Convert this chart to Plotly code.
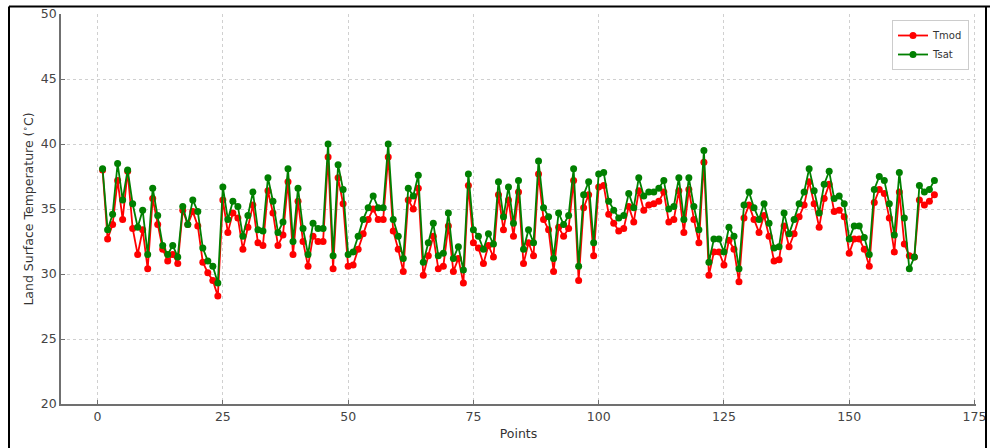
import plotly.graph_objects as go

points = list(range(1, 168))

tmod = [38.0, 32.7, 33.8, 37.2, 34.2, 37.9, 33.5, 31.5, 33.4, 30.4,
        35.8, 33.8, 31.9, 31.0, 31.5, 30.8, 34.9, 33.8, 34.8, 33.7,
        30.9, 30.1, 29.5, 28.3, 35.7, 33.2, 34.7, 34.3, 31.9, 33.6,
        35.3, 32.4, 32.2, 36.4, 34.7, 32.2, 33.0, 37.1, 31.5, 35.6,
        32.5, 30.6, 32.9, 32.5, 32.5, 39.0, 30.4, 37.4, 35.4, 30.6,
        30.7, 31.9, 33.1, 34.2, 35.0, 34.2, 34.2, 39.0, 33.3, 31.9,
        30.2, 35.7, 35.0, 36.6, 29.9, 31.4, 32.9, 30.4, 30.6, 33.7,
        30.2, 31.2, 29.3, 36.8, 32.4, 32.0, 30.8, 32.2, 31.3, 36.1,
        33.4, 35.7, 32.9, 36.3, 30.8, 32.4, 31.4, 37.7, 34.2, 33.4,
        30.2, 33.6, 32.9, 33.5, 37.2, 29.5, 35.1, 36.1, 31.4, 36.7,
        36.8, 34.6, 33.9, 33.3, 33.5, 35.2, 34.0, 36.4, 34.9, 35.3,
        35.4, 35.6, 36.3, 34.0, 34.2, 36.4, 33.2, 36.5, 34.2, 32.4,
        38.6, 29.9, 31.7, 31.7, 30.7, 32.6, 31.9, 29.4, 34.3, 35.3,
        34.2, 33.2, 34.5, 32.9, 31.0, 31.1, 33.7, 32.1, 33.1, 34.4,
        35.3, 37.1, 35.4, 33.6, 35.8, 36.9, 34.8, 34.9, 34.4, 31.6,
        32.7, 32.7, 31.9, 30.6, 35.5, 36.5, 36.2, 34.3, 31.7, 36.3,
        32.3, 31.4, 31.3, 35.7, 35.3, 35.6, 36.1]

tsat = [38.1, 33.4, 34.6, 38.5, 35.7, 38.0, 35.4, 33.6, 34.9, 31.5,
        36.6, 34.5, 32.2, 31.5, 32.2, 31.3, 35.2, 33.8, 35.7, 34.8,
        32.0, 31.0, 30.6, 29.3, 36.7, 34.2, 35.6, 35.2, 32.9, 34.5,
        36.3, 33.4, 33.3, 37.4, 35.6, 33.2, 34.0, 38.1, 32.5, 36.6,
        33.5, 31.5, 33.9, 33.5, 33.5, 40.0, 31.4, 38.4, 36.5, 31.5,
        31.7, 32.9, 34.2, 35.1, 36.0, 35.1, 35.1, 40.0, 34.2, 32.9,
        31.2, 36.6, 36.0, 37.6, 30.9, 32.4, 33.9, 31.4, 31.6, 34.7,
        31.2, 32.1, 30.3, 37.7, 33.4, 32.9, 31.9, 33.1, 32.3, 37.1,
        34.4, 36.7, 33.9, 37.2, 31.9, 33.4, 32.4, 38.7, 35.1, 34.4,
        31.2, 34.7, 33.8, 34.5, 38.1, 30.6, 36.1, 37.1, 32.4, 37.7,
        37.8, 35.6, 34.9, 34.3, 34.5, 36.2, 35.1, 37.4, 36.0, 36.3,
        36.3, 36.6, 37.2, 35.0, 35.2, 37.4, 34.2, 37.4, 35.2, 33.4,
        39.5, 30.9, 32.7, 32.7, 31.7, 33.6, 32.9, 30.4, 35.3, 36.3,
        35.1, 34.2, 35.4, 33.9, 32.0, 32.1, 34.7, 33.1, 34.2, 35.4,
        36.3, 38.1, 36.4, 34.7, 36.9, 37.9, 35.8, 36.0, 35.4, 32.7,
        33.7, 33.7, 32.8, 31.5, 36.5, 37.5, 37.2, 35.4, 33.0, 37.8,
        34.3, 30.4, 31.3, 36.8, 36.3, 36.5, 37.2]

x_ticks = [0, 25, 50, 75, 100, 125, 150, 175]
y_ticks = [20, 25, 30, 35, 40, 45, 50]

fig = go.Figure()
fig.add_trace(go.Scatter(
    x=points, y=tmod, name="Tmod", mode="lines+markers",
    line=dict(color="#ff0000", width=1.8),
    marker=dict(color="#ff0000", size=7),
))
fig.add_trace(go.Scatter(
    x=points, y=tsat, name="Tsat", mode="lines+markers",
    line=dict(color="#008000", width=1.8),
    marker=dict(color="#008000", size=7),
))

axis_common = dict(
    showgrid=True, gridcolor="#d0d0d0", griddash="dot", gridwidth=1,
    showline=True, linecolor="#707070", linewidth=1.6,
    ticks="inside", ticklen=4, tickcolor="#707070", tickwidth=1.2,
    tickfont=dict(family="DejaVu Sans", size=12.5, color="#444444"),
    zeroline=False, mirror=False,
)

fig.update_xaxes(range=[-7.3, 175.3], tickvals=x_ticks,
                 title=dict(text="Points", standoff=6,
                            font=dict(family="DejaVu Sans", size=12.5, color="#333333")),
                 **axis_common)
fig.update_yaxes(range=[20, 50], tickvals=y_ticks,
                 title=dict(text="Land Surface Temperature (<sup>∘</sup>C)", standoff=4,
                            font=dict(family="DejaVu Sans", size=12.5, color="#333333")),
                 **axis_common)

# page frame (black border of the source image)
L, R, T, B = 61, 14, 14, 44
W, H = 990, 448
pw, ph = W - L - R, H - T - B
def px(x):
    return (x - L) / pw
def py(y):
    return (H - B - y) / ph

frame = dict(type="line", xref="paper", yref="paper",
             line=dict(color="black", width=2))
fig.add_shape(x0=px(9), x1=px(9), y0=py(6.5), y1=py(448), **frame)
fig.add_shape(x0=px(9), x1=px(990), y0=py(6.5), y1=py(6.5), **frame)
fig.add_shape(x0=px(986), x1=px(986), y0=py(6.5), y1=py(448), **frame)

fig.update_layout(
    width=W, height=H,
    margin=dict(l=L, r=R, t=T, b=B, autoexpand=False),
    plot_bgcolor="white", paper_bgcolor="white",
    font=dict(family="DejaVu Sans", color="#333333"),
    legend=dict(x=px(969), y=py(20), xanchor="right", yanchor="top",
                bgcolor="white", bordercolor="#cccccc", borderwidth=1,
                font=dict(family="DejaVu Sans", size=10, color="#333333"),
                itemwidth=30, tracegroupgap=0),
    showlegend=True,
)

fig.write_html("out.html", config={"displayModeBar": False},
               post_script="document.body.style.margin='0';document.body.style.overflow='hidden';")
